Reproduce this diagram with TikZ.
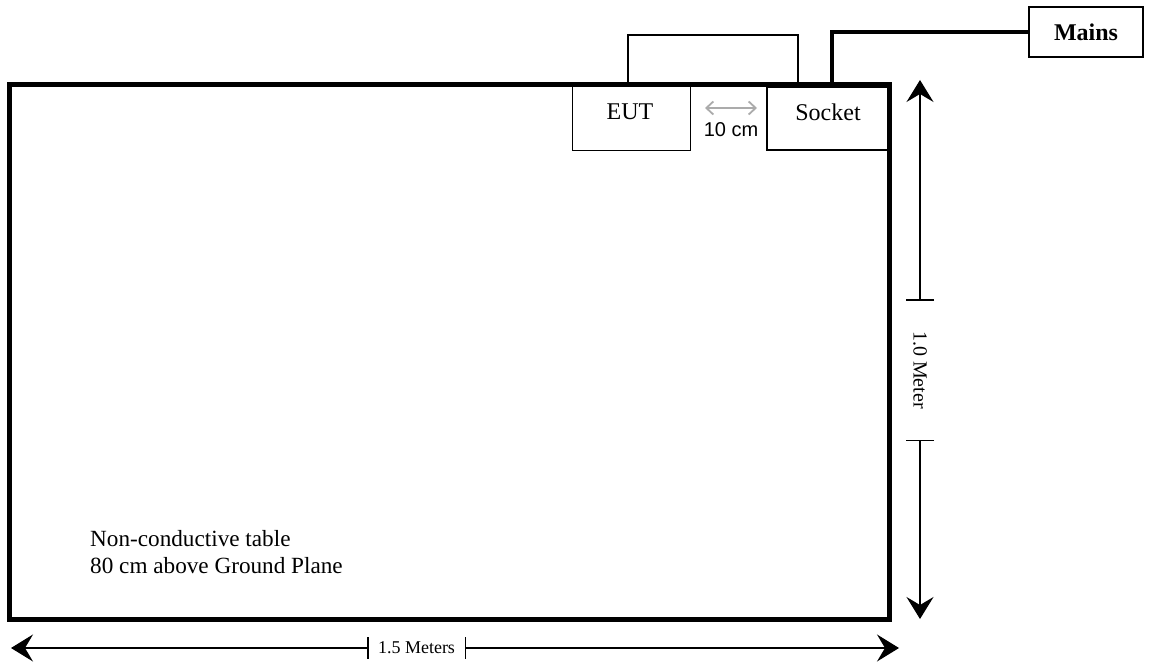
\documentclass[tikz,border=0pt]{standalone}
\usepackage{fontspec}
\setmainfont{Liberation Serif}
\newfontfamily\arialfont{Liberation Sans}
\usetikzlibrary{arrows.meta}
\begin{document}
\begin{tikzpicture}[x=1pt,y=-1pt,
  tablebox/.style={draw,line width=3.4pt},
  eutbox/.style={draw,line width=0.9pt,inner sep=0pt},
  sockbox/.style={draw,line width=2pt,inner sep=0pt},
  mainsbox/.style={draw,line width=1.4pt,inner sep=0pt},
  cable/.style={line width=1.6pt},
  maincable/.style={line width=3.4pt},
  dimarrow/.style={line width=1.4pt,-{Stealth[length=22pt,width=27pt,inset=8pt]}},
  dimtick/.style={line width=1.4pt},
  gaparrow/.style={draw=black!33,line width=1.8pt,{Straight Barb[length=7pt,width=13pt]}-{Straight Barb[length=7pt,width=13pt]}},
  lbl/.style={inner sep=0pt,font=\fontsize{24}{27}\selectfont}
]
\useasboundingbox (0,0) rectangle (1149,663);
% table
\node[tablebox,minimum width=879pt,minimum height=533pt,inner sep=0pt] (table) at (449.5,352) {};
% EUT and socket
\node[eutbox,minimum width=118pt,minimum height=64pt,anchor=north west] (eut) at (572,86) {};
\node[sockbox,minimum width=123pt,minimum height=63pt,anchor=north west] (sock) at (766,86) {};
\draw[tablebox] (table.north west) rectangle (table.south east);
\node[lbl] (eutl) at (630,112) {EUT};
\node[lbl] (sockl) at (828,112) {Socket};
% mains
\node[mainsbox,minimum width=114pt,minimum height=50pt] (mains) at (1086,32) {};
\node[lbl,font=\fontsize{24}{27}\selectfont\bfseries] (mainsl) at (1086,32) {Mains};
% cables
\coordinate (c1) at (628,86);
\coordinate (c2) at (798,86);
\draw[cable] (c1) -- (628,35) -- (798,35) -- (c2);
\coordinate (m1) at (832,86);
\draw[maincable] (m1) |- (mains.west);
% 10 cm
\coordinate (g1) at (705,108);
\coordinate (g2) at (757,108);
\draw[gaparrow] (g1) -- (g2);
\node[inner sep=0pt,font=\arialfont\fontsize{20}{22}\selectfont] (gapl) at (731,130) {10 cm};
% table text
\node[lbl,font=\fontsize{23.2}{27}\selectfont,align=left,anchor=north west] (tablel) at (90,530) {Non-conductive table\\80 cm above Ground Plane};
% horizontal dimension
\node[inner sep=0pt,minimum width=97pt,minimum height=21pt,font=\fontsize{18}{20}\selectfont] (w15) at (416.5,648) {1.5 Meters};
\coordinate (wl) at (11,648);
\coordinate (wr) at (899,648);
\draw[dimarrow] (w15.west) -- (wl);
\draw[dimarrow] (w15.east) -- (wr);
\draw[dimtick] (w15.north west) -- (w15.south west);
\draw[dimtick] (w15.north east) -- (w15.south east);
% vertical dimension
\node[inner sep=0pt,minimum width=140pt,minimum height=28pt,rotate=-90,font=\fontsize{20}{22}\selectfont] (h10) at (920,370) {1.0 Meter};
\coordinate (ht) at (920,80);
\coordinate (hb) at (920,619);
\draw[dimarrow] (h10.west) -- (ht);
\draw[dimarrow] (h10.east) -- (hb);
\draw[dimtick] (h10.north west) -- (h10.south west);
\draw[dimtick] (h10.north east) -- (h10.south east);
\end{tikzpicture}
\end{document}
